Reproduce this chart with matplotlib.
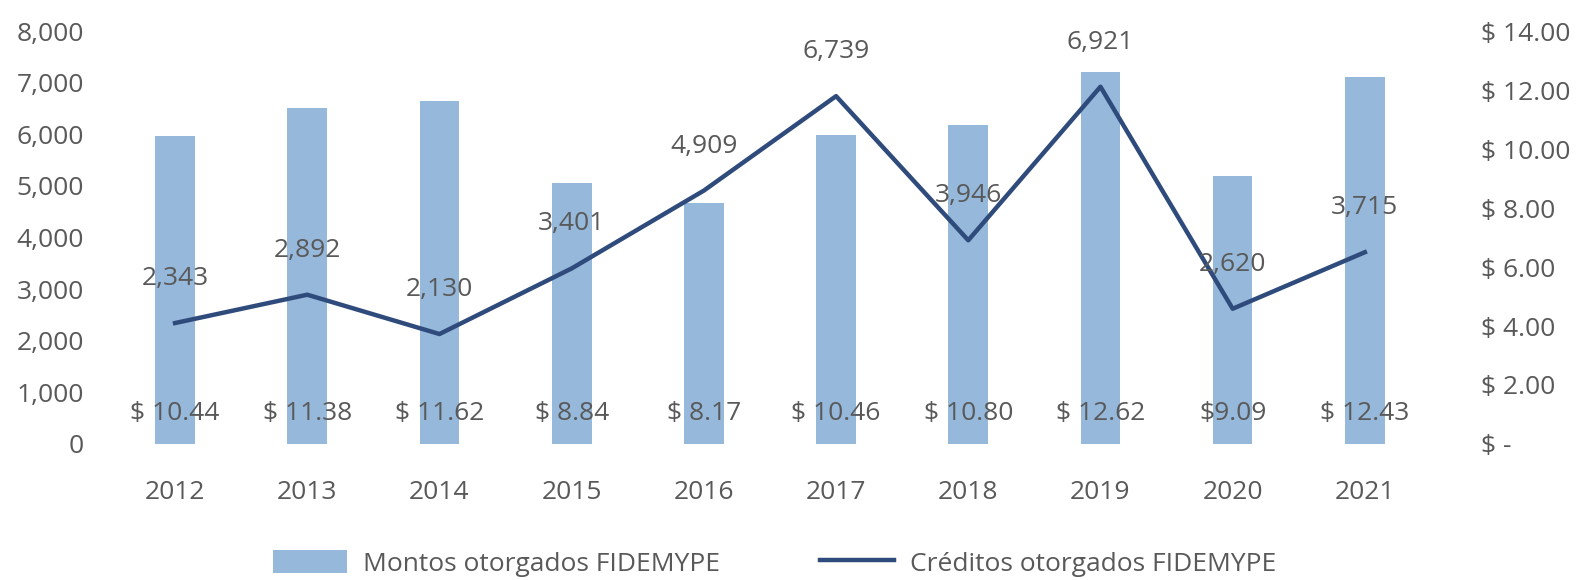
import matplotlib.pyplot as plt
from matplotlib.ticker import FixedLocator, FixedFormatter

plt.rcParams['font.family'] = ['Open Sans', 'DejaVu Sans']

years = ['2012', '2013', '2014', '2015', '2016', '2017', '2018', '2019', '2020', '2021']
creditos = [2343, 2892, 2130, 3401, 4909, 6739, 3946, 6921, 2620, 3715]
montos = [10.44, 11.38, 11.62, 8.84, 8.17, 10.46, 10.80, 12.62, 9.09, 12.43]
montos_labels = ['$ 10.44', '$ 11.38', '$ 11.62', '$ 8.84', '$ 8.17',
                 '$ 10.46', '$ 10.80', '$ 12.62', '$9.09', '$ 12.43']
left_ticks = [0, 1000, 2000, 3000, 4000, 5000, 6000, 7000, 8000]
right_ticks = [0, 2, 4, 6, 8, 10, 12, 14]
right_tick_labels = ['$ -', '$ 2.00', '$ 4.00', '$ 6.00', '$ 8.00', '$ 10.00', '$ 12.00', '$ 14.00']

bar_color = '#95B8DB'
line_color = '#2F4B7C'
text_color = '#595959'

fig = plt.figure(figsize=(15.77, 5.8), dpi=100)
ax = fig.add_axes([0.0691, 0.2345, 0.8383, 0.712])
ax2 = ax.twinx()

x = list(range(len(years)))

# bars on the right axis
bars = ax2.bar(x, montos, width=0.3, color=bar_color, label='Montos otorgados FIDEMYPE')
for xi, lab in zip(x, montos_labels):
    ax2.annotate(lab, xy=(xi, 0), xytext=(0, 22), textcoords='offset points',
                 ha='center', va='center', fontsize=19, color=text_color)

# line on the left axis, drawn above the bars
ax.set_zorder(ax2.get_zorder() + 1)
ax.patch.set_visible(False)
line, = ax.plot(x, creditos, color=line_color, lw=3.2, label='Créditos otorgados FIDEMYPE')
for xi, v in zip(x, creditos):
    ax.annotate(f'{v:,}', xy=(xi, v), xytext=(0, 32), textcoords='offset points',
                ha='center', va='center', fontsize=19, color=text_color)

ax.set_xlim(-0.5, len(years) - 0.5)
ax.set_ylim(0, 8000)
ax2.set_ylim(0, 14)

ax.set_xticks(x)
ax.set_xticklabels(years)
ax.yaxis.set_major_locator(FixedLocator(left_ticks))
ax.yaxis.set_major_formatter(FixedFormatter([f'{t:,}' for t in left_ticks]))
ax2.yaxis.set_major_locator(FixedLocator(right_ticks))
ax2.yaxis.set_major_formatter(FixedFormatter(right_tick_labels))

ax.tick_params(axis='x', length=0, pad=26, labelsize=19, labelcolor=text_color)
ax.tick_params(axis='y', length=0, pad=18, labelsize=19, labelcolor=text_color)
ax2.tick_params(axis='y', length=0, pad=36, labelsize=19, labelcolor=text_color)
for lab in ax2.get_yticklabels():
    lab.set_horizontalalignment('left')

for a in (ax, ax2):
    for s in a.spines.values():
        s.set_visible(False)

fig.legend([bars, line], ['Montos otorgados FIDEMYPE', 'Créditos otorgados FIDEMYPE'],
           loc='center', bbox_to_anchor=(0.491, 0.029), ncol=2, frameon=False,
           fontsize=19, labelcolor=text_color, handlelength=2.8, handleheight=1.0,
           columnspacing=3.8, handletextpad=0.6)

fig.savefig('out.png', dpi=100)
